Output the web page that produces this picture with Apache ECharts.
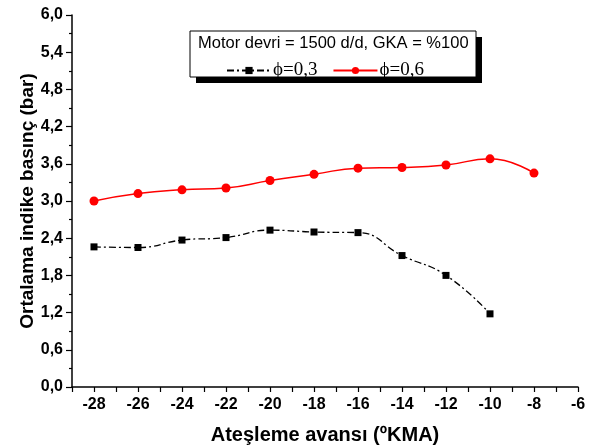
<!DOCTYPE html>
<html>
<head>
<meta charset="utf-8">
<script src="https://cdn.jsdelivr.net/npm/echarts@6/dist/echarts.min.js"></script>
<style>html,body{margin:0;padding:0;background:#fff;}#c{width:591px;height:448px;}</style>
</head>
<body>
<div id="c"></div>
<script>
const xValues = [-28, -26, -24, -22, -20, -18, -16, -14, -12, -10, -8];
const phi03 = [2.26, 2.25, 2.37, 2.41, 2.53, 2.50, 2.49, 2.12, 1.80, 1.18];
const phi06 = [3.00, 3.12, 3.18, 3.21, 3.33, 3.43, 3.53, 3.54, 3.58, 3.68, 3.45];
const seriesNames = ['\u03d5=0,3', '\u03d5=0,6'];
const legendTitle = 'Motor devri = 1500 d/d, GKA = %100';
const xTitle = 'Ateşleme avansı (ºKMA)';
const yTitle = 'Ortalama indike basınç (bar)';

const chart = echarts.init(document.getElementById('c'), null, {renderer: 'canvas'});
const sansB = 'Liberation Sans';
chart.setOption({
  backgroundColor: '#fff',
  animation: false,
  grid: {left: 72, top: 15, right: 13, bottom: 61, containLabel: false, outerBoundsMode: 'none'},
  xAxis: {
    type: 'value', min: -29, max: -6, interval: 1,
    axisLine: {show: true, onZero: false, lineStyle: {color: '#000', width: 1.5}},
    axisTick: {show: true, length: 5, lineStyle: {color: '#000', width: 1.2}},
    splitLine: {show: false},
    axisLabel: {
      color: '#000', fontFamily: sansB, fontWeight: 'bold', fontSize: 16, margin: 10,
      formatter: v => (Math.round(v) % 2 === 0 ? String(v) : '')
    },
    name: xTitle, nameLocation: 'middle', nameGap: 38,
    nameTextStyle: {color: '#000', fontFamily: sansB, fontWeight: 'bold', fontSize: 20}
  },
  yAxis: {
    type: 'value', min: 0, max: 6, interval: 0.6,
    axisLine: {show: true, onZero: false, lineStyle: {color: '#000', width: 1.5}},
    axisTick: {show: true, length: 6, lineStyle: {color: '#000', width: 1.2}},
    minorTick: {show: true, splitNumber: 2, length: 3, lineStyle: {color: '#000', width: 1.2}},
    splitLine: {show: false},
    axisLabel: {
      color: '#000', fontFamily: sansB, fontWeight: 'bold', fontSize: 16, margin: 9,
      formatter: v => v.toFixed(1).replace('.', ',')
    },
    name: yTitle, nameLocation: 'middle', nameGap: 35, nameRotate: 90, nameMoveOverlap: false,
    nameTextStyle: {color: '#000', fontFamily: sansB, fontWeight: 'bold', fontSize: 19}
  },
  legend: {
    left: 221, top: 56, z: 20, itemWidth: 44, itemHeight: 9, itemGap: 15,
    textStyle: {color: '#000', fontFamily: 'Liberation Serif', fontSize: 19, padding: [0, 0, 0, -3]},
    data: seriesNames
  },
  graphic: [
    {type: 'rect', z: 5, shape: {x: 196, y: 37, width: 286, height: 46}, style: {fill: '#000'}},
    {type: 'rect', z: 6, shape: {x: 190, y: 31, width: 286, height: 46}, style: {fill: '#fff', stroke: '#000', lineWidth: 1}},
    {type: 'text', z: 7, x: 198, y: 35, style: {text: legendTitle, fill: '#000', font: '16.5px "Liberation Sans"'}}
  ],
  series: [
    {
      name: seriesNames[0], type: 'line', smooth: 0.5,
      data: phi03.map((v, i) => [xValues[i], v]),
      symbol: 'rect', symbolSize: 7,
      itemStyle: {color: '#000'},
      lineStyle: {color: '#000', width: 1.3, type: [7, 3, 2, 3]}
    },
    {
      name: seriesNames[1], type: 'line', smooth: 0.5,
      data: phi06.map((v, i) => [xValues[i], v]),
      symbol: 'circle', symbolSize: 9,
      itemStyle: {color: '#ff0000'},
      lineStyle: {color: '#ff0000', width: 1.5}
    }
  ]
});
</script>
</body>
</html>
